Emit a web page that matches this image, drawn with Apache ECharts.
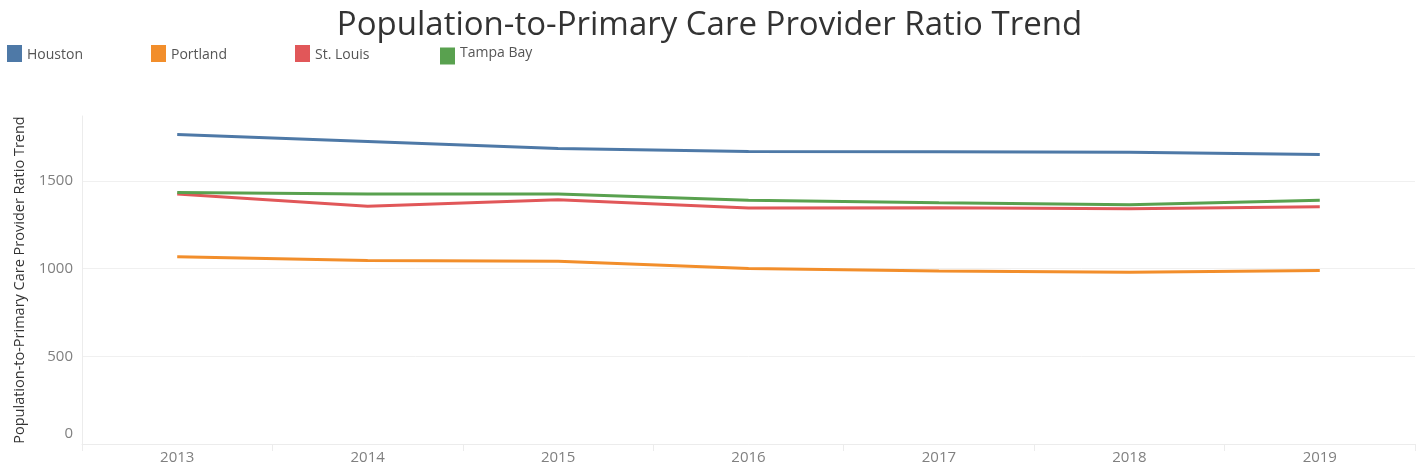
<!DOCTYPE html>
<html>
<head>
<meta charset="utf-8">
<script src="https://cdn.jsdelivr.net/npm/echarts@6/dist/echarts.min.js"></script>
<style>
html,body{margin:0;padding:0;background:#fff;}
#chart{width:1419px;height:473px;}
</style>
</head>
<body>
<div id="chart"></div>
<script>
const years = ['2013','2014','2015','2016','2017','2018','2019'];
const houston = [1764, 1724, 1685, 1668, 1666, 1664, 1650];
const portland = [1068, 1046, 1042, 1000, 986, 979, 989];
const stLouis = [1425, 1355, 1393, 1345, 1347, 1341, 1353];
const tampaBay = [1434, 1425, 1425, 1389, 1376, 1364, 1389];
const seriesNames = ['Houston', 'Portland', 'St. Louis', 'Tampa Bay'];
const seriesColors = ['#4e79a7', '#f28e2b', '#e15759', '#59a14f'];
const yTicks = [0, 500, 1000, 1500];

const values = [houston, portland, stLouis, tampaBay];
const legendLeft = [7, 151, 295, 440];
const legendTop = [45, 45, 45, 46];
const legendTextPad = [[4, 0, 0, 0], [4, 0, 0, 0], [4, 0, 0, 0], [0, 0, 6, 0]];
const FONT = 'Open Sans';

const chart = echarts.init(document.getElementById('chart'));
chart.setOption({
  animation: false,
  backgroundColor: '#fff',
  color: seriesColors,
  title: {
    text: 'Population-to-Primary Care Provider Ratio Trend',
    left: 'center',
    top: 4,
    textStyle: { fontFamily: FONT, fontSize: 33, fontWeight: 'normal', color: '#333' }
  },
  legend: seriesNames.map((n, i) => ({
    data: [n],
    left: legendLeft[i],
    top: legendTop[i],
    padding: 0,
    icon: 'rect',
    itemWidth: 15,
    itemHeight: 17,
    formatter: '{t|{name}}',
    textStyle: {
      fontFamily: FONT, fontSize: 14, color: '#555',
      rich: { t: { fontFamily: FONT, fontSize: 14, color: '#555', padding: legendTextPad[i] } }
    }
  })),
  grid: { left: 82, right: 4, top: 116, bottom: 29, containLabel: false },
  xAxis: {
    type: 'category',
    data: years,
    boundaryGap: true,
    axisLine: { show: true, lineStyle: { color: '#ececec', width: 1 } },
    axisTick: { show: true, length: 7, lineStyle: { color: '#ececec' } },
    axisLabel: { color: '#808080', fontFamily: FONT, fontSize: 15, margin: 6 },
    splitLine: { show: false }
  },
  yAxis: {
    type: 'value',
    min: 0,
    max: 1870,
    interval: 500,
    name: 'Population-to-Primary Care Provider Ratio Trend',
    nameLocation: 'middle',
    nameGap: 52,
    nameTextStyle: { color: '#333', fontFamily: FONT, fontSize: 14.5 },
    axisLine: { show: true, lineStyle: { color: '#ececec' } },
    axisTick: { show: false },
    axisLabel: {
      color: '#808080', fontFamily: FONT, fontSize: 15, margin: 9,
      formatter: v => (v === 0 ? '{z|0}' : (yTicks.indexOf(v) >= 0 ? String(v) : '')),
      rich: { z: { color: '#808080', fontFamily: FONT, fontSize: 15, padding: [0, 0, 20, 0] } }
    },
    splitLine: { show: true, showMaxLine: false, lineStyle: { color: '#f0f0f0', width: 1 } }
  },
  series: seriesNames.map((n, i) => ({
    name: n,
    type: 'line',
    data: values[i],
    symbol: 'none',
    lineStyle: { width: 3, color: seriesColors[i] },
    itemStyle: { color: seriesColors[i] }
  }))
});
</script>
</body>
</html>
